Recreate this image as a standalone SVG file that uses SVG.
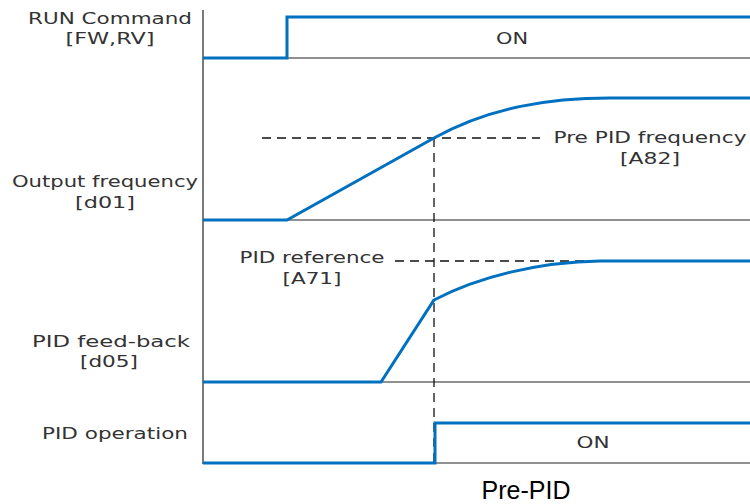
<svg xmlns="http://www.w3.org/2000/svg" width="750" height="504" viewBox="0 0 750 504">
<style>
.ax{stroke:#222;stroke-width:1.2;fill:none}
.sig{stroke:#0070C0;stroke-width:3;fill:none;stroke-linejoin:miter}
.dash{stroke:#111;stroke-width:1.3;fill:none;stroke-dasharray:9 6}
.t{font-family:"DejaVu Sans","Noto Sans",sans-serif;font-size:15.5px;fill:#333}
.big{font-family:"Liberation Sans",Arial,sans-serif;font-size:25px;fill:#000}
</style>
<g id="axes">
<line class="ax" x1="203" y1="10" x2="203" y2="464"/>
<line class="ax" x1="287" y1="58" x2="750" y2="58"/>
<line class="ax" x1="203" y1="220" x2="750" y2="220"/>
<line class="ax" x1="203" y1="382" x2="750" y2="382"/>
<line class="ax" x1="435" y1="463" x2="750" y2="463"/>
</g>
<g id="connectors">
<line class="dash" x1="262" y1="138" x2="540" y2="138"/>
<line class="dash" x1="395" y1="261" x2="600" y2="261"/>
<line class="dash" x1="434" y1="138" x2="434" y2="463"/>
</g>
<g id="run-command">
<polyline class="sig" points="203,58 287,58 287,17 750,17"/>
<text class="t" x="110" y="24" text-anchor="middle" textLength="164" lengthAdjust="spacingAndGlyphs">RUN Command</text>
<text class="t" x="110" y="44" text-anchor="middle" textLength="89" lengthAdjust="spacingAndGlyphs">[FW,RV]</text>
<text class="t" x="512" y="44" text-anchor="middle" textLength="32" lengthAdjust="spacingAndGlyphs">ON</text>
</g>
<g id="output-frequency">
<path class="sig" d="M203,220 L287,220 L434,138 C490,107 550,98 610,98 L750,98"/>
<text class="t" x="105" y="187" text-anchor="middle" textLength="186" lengthAdjust="spacingAndGlyphs">Output frequency</text>
<text class="t" x="105" y="208" text-anchor="middle" textLength="60" lengthAdjust="spacingAndGlyphs">[d01]</text>
<text class="t" x="650" y="143" text-anchor="middle" textLength="193" lengthAdjust="spacingAndGlyphs">Pre PID frequency</text>
<text class="t" x="650" y="164" text-anchor="middle" textLength="60" lengthAdjust="spacingAndGlyphs">[A82]</text>
</g>
<g id="pid-feedback">
<path class="sig" d="M203,382 L381,382 L434,300 C480,276 540,262 600,261 L750,261"/>
<text class="t" x="111" y="347" text-anchor="middle" textLength="158" lengthAdjust="spacingAndGlyphs">PID feed-back</text>
<text class="t" x="109" y="367" text-anchor="middle" textLength="58" lengthAdjust="spacingAndGlyphs">[d05]</text>
<text class="t" x="312" y="263" text-anchor="middle" textLength="145" lengthAdjust="spacingAndGlyphs">PID reference</text>
<text class="t" x="312" y="284" text-anchor="middle" textLength="59" lengthAdjust="spacingAndGlyphs">[A71]</text>
</g>
<g id="pid-operation">
<polyline class="sig" points="203,463 435,463 435,423 750,423"/>
<text class="t" x="115" y="439" text-anchor="middle" textLength="146" lengthAdjust="spacingAndGlyphs">PID operation</text>
<text class="t" x="593" y="448" text-anchor="middle" textLength="33" lengthAdjust="spacingAndGlyphs">ON</text>
</g>
<text class="big" x="526" y="499" text-anchor="middle">Pre-PID</text>
</svg>
